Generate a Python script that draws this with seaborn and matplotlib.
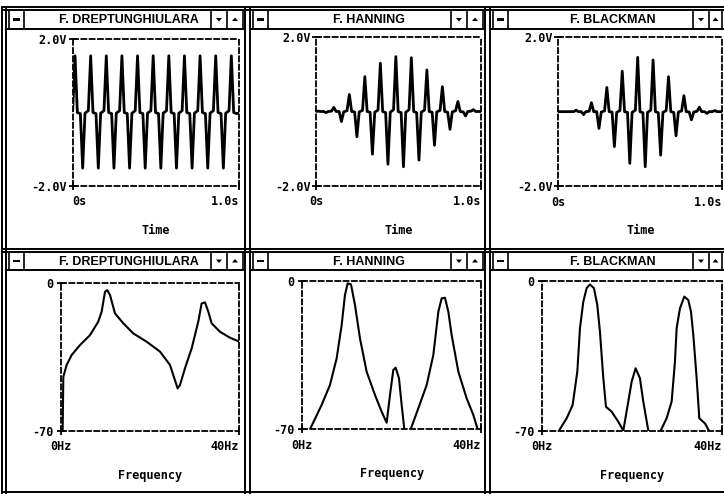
import numpy as np
import pandas as pd
import matplotlib
matplotlib.use("Agg")
import matplotlib.pyplot as plt
from matplotlib.patches import Rectangle, Polygon
import seaborn as sns

# ---------------- data ----------------
titles = ["F. DREPTUNGHIULARA", "F. HANNING", "F. BLACKMAN"]

# time-domain vertices (shared time instants, seconds)
t_time = [
    0.000, 0.014, 0.028, 0.046, 0.060, 0.074,
    0.094, 0.108, 0.122, 0.140, 0.154, 0.168,
    0.188, 0.202, 0.216, 0.234, 0.248, 0.262,
    0.282, 0.296, 0.310, 0.328, 0.342, 0.356,
    0.376, 0.390, 0.404, 0.422, 0.436, 0.450,
    0.470, 0.484, 0.498, 0.516, 0.530, 0.544,
    0.564, 0.578, 0.592, 0.610, 0.624, 0.638,
    0.658, 0.672, 0.686, 0.704, 0.718, 0.732,
    0.752, 0.766, 0.780, 0.798, 0.812, 0.826,
    0.846, 0.860, 0.874, 0.892, 0.906, 0.920,
    0.940, 0.954, 0.968, 0.986, 1.000]

v_rect = [
    0.05, 1.55, 0.00, -0.03, -1.52, -0.02,
    0.05, 1.55, 0.00, -0.03, -1.52, -0.02,
    0.05, 1.55, 0.00, -0.03, -1.52, -0.02,
    0.05, 1.55, 0.00, -0.03, -1.52, -0.02,
    0.05, 1.55, 0.00, -0.03, -1.52, -0.02,
    0.05, 1.55, 0.00, -0.03, -1.52, -0.02,
    0.05, 1.55, 0.00, -0.03, -1.52, -0.02,
    0.05, 1.55, 0.00, -0.03, -1.52, -0.02,
    0.05, 1.55, 0.00, -0.03, -1.52, -0.02,
    0.05, 1.55, 0.00, -0.03, -1.52, -0.02,
    0.05, 1.55, 0.00, -0.03, -0.02]

v_hann = [
    0.00, 0.01, 0.00, 0.00, -0.03, 0.00,
    0.01, 0.11, 0.00, 0.00, -0.27, -0.01,
    0.02, 0.46, 0.00, -0.01, -0.68, -0.01,
    0.03, 0.94, 0.00, -0.02, -1.15, -0.02,
    0.04, 1.30, 0.00, -0.03, -1.42, -0.02,
    0.05, 1.48, 0.00, -0.03, -1.49, -0.02,
    0.05, 1.45, 0.00, -0.03, -1.31, -0.02,
    0.04, 1.12, 0.00, -0.02, -0.91, -0.01,
    0.03, 0.67, 0.00, -0.02, -0.48, -0.01,
    0.02, 0.27, 0.00, -0.01, -0.12, 0.00,
    0.01, 0.05, 0.00, 0.00, 0.00]

v_black = [
    0.00, 0.00, 0.00, 0.00, 0.00, 0.00,
    0.00, 0.04, 0.00, 0.00, -0.08, 0.00,
    0.01, 0.24, 0.00, 0.00, -0.45, -0.01,
    0.02, 0.65, 0.00, -0.01, -0.94, -0.02,
    0.03, 1.09, 0.00, -0.02, -1.39, -0.02,
    0.04, 1.46, 0.00, -0.03, -1.48, -0.02,
    0.04, 1.39, 0.00, -0.03, -1.17, -0.02,
    0.03, 0.94, 0.00, -0.02, -0.65, -0.01,
    0.02, 0.43, 0.00, -0.01, -0.22, -0.01,
    0.01, 0.12, 0.00, 0.00, -0.05, 0.00,
    0.00, 0.03, 0.00, 0.00, 0.00]

# spectra (Hz, dB); NaN = curve below the -70 floor (not drawn)
f_rect = [0.37, 0.52, 1.27, 2.39, 4.26, 6.5, 8.37, 9.12, 9.87, 10.39, 10.99,
          12.11, 13.98, 16.22, 19.21, 22.21, 24.45, 25.42, 26.17, 26.69, 27.81,
          29.31, 30.8, 31.55, 32.3, 33.05, 33.79, 35.66, 37.9, 40.0]
db_rect = [-70, -44.5, -38.9, -34.2, -29.5, -24.8, -18.4, -13.7, -4.3, -3.5, -5.8,
           -14.5, -19.2, -24.0, -27.9, -32.6, -38.9, -45.2, -50.0, -48.4, -40.5,
           -31.1, -18.4, -9.8, -9.3, -13.7, -19.2, -23.2, -26.0, -27.9]

f_hann = [1.72, 4.33, 6.19, 7.69, 8.81, 9.55, 10.15, 10.9, 11.79, 12.91, 14.4,
          16.27, 17.76, 18.88, 19.63, 20.37, 20.9, 21.64, 22.24, 22.84, np.nan,
          24.25, 25.97, 27.84, 29.33, 30.45, 31.19, 31.94, 32.69, 33.43, 34.93,
          36.79, 38.28, 39.25]
db_hann = [-70, -58.5, -49.1, -36.5, -20.8, -6.6, -1.1, -1.6, -11.3, -27.1, -42.8,
           -53.8, -61.7, -66.9, -53.8, -42.0, -40.9, -45.9, -58.5, -70, np.nan,
           -70, -60.1, -49.1, -34.9, -14.5, -8.2, -7.9, -14.5, -25.5, -42.8,
           -55.4, -63.2, -70]

f_black = [3.7, 5.41, 6.74, 7.78, 8.37, 9.11, 9.85, 10.59, 11.48, 12.22, 12.81,
           13.56, 14.15, 15.41, 16.89, 18.0, 19.11, 19.85, 20.74, 21.7, 22.44,
           23.56, np.nan, 26.3, 27.63, 28.74, 29.48, 29.85, 30.59, 31.56, 32.44,
           33.04, 33.56, 34.3, 34.89, 36.15, 37.04]
db_black = [-70, -64.2, -58.0, -42.4, -22.1, -9.7, -3.4, -1.6, -3.4, -11.2, -23.7,
            -45.5, -58.8, -61.1, -65.8, -70, -56.4, -47.1, -40.8, -45.5, -56.4,
            -70, np.nan, -70, -64.2, -56.4, -37.7, -22.1, -12.8, -7.3, -8.9,
            -14.3, -25.3, -45.5, -64.2, -66.6, -70]

time_ticks = [0, 1.0]
time_ticklabels = ["0s", "1.0s"]
volt_ticks = [-2.0, 2.0]
volt_ticklabels = ["-2.0V", "2.0V"]
freq_ticks = [0, 40]
freq_ticklabels = ["0Hz", "40Hz"]
db_ticks = [-70, 0]
db_ticklabels = ["-70", "0"]

# ---------------- figure ----------------
sns.set_theme(style="white")
plt.rcParams['font.family'] = ['DejaVu Sans']

W, H = 724, 494
fig = plt.figure(figsize=(W / 100, H / 100), dpi=100)
fig.patch.set_facecolor("white")
bg = fig.add_axes([0, 0, 1, 1])
bg.set_xlim(0, W)
bg.set_ylim(H, 0)
bg.axis("off")

LW = 1.4


def hline(y, x0, x1, lw=LW):
    bg.plot([x0, x1], [y, y], color="black", lw=lw, solid_capstyle="butt")


def vline(x, y0, y1, lw=LW):
    bg.plot([x, x], [y0, y1], color="black", lw=lw, solid_capstyle="butt")


# window frames
for x in [2, 6, 245, 250, 485, 490]:
    vline(x, 6, 494)
for y in [7, 10, 248.5, 252, 492]:
    hline(y, 2, W)

cols = [  # left, right, box-left, box-right, div1, div2, title centre
    (6, 245, 9, 24, 211, 227, 129),
    (250, 485, 253, 268, 451, 467, 369),
    (490, W, 493, 508, 693, 709, 613),
]
rows = [(10, 29), (252, 270)]
for (yt, yb) in rows:
    ym = (yt + yb) / 2
    for ci, (xl, xr, bl, br, d1, d2, tc) in enumerate(cols):
        hline(yb, xl, xr)
        for x in [bl, br, d1, d2]:
            vline(x, yt, yb, lw=1.2)
        vline(min(xr - 2, W), yt, yb, lw=1.2)
        # "-" system button
        bg.add_patch(Rectangle(((bl + br) / 2 - 3.5, ym - 1.2), 7, 2.4,
                               color="black", lw=0))
        # down / up arrows
        cx = (d1 + d2) / 2
        bg.add_patch(Polygon([[cx - 3, ym - 1.5], [cx + 3, ym - 1.5], [cx, ym + 2]],
                             closed=True, color="black", lw=0))
        cx = (d2 + min(xr - 2, W + 14)) / 2
        bg.add_patch(Polygon([[cx - 3, ym + 1.5], [cx + 3, ym + 1.5], [cx, ym - 2]],
                             closed=True, color="black", lw=0))
        bg.text(tc, ym + 0.5, titles[ci], ha="center", va="center", color="black",
                fontsize=9, fontweight="bold", family=["Liberation Sans", "DejaVu Sans"])


def px_axes(x0, y0, x1, y1):
    return fig.add_axes([x0 / W, 1 - y1 / H, (x1 - x0) / W, (y1 - y0) / H])


MONO = ["DejaVu Sans Mono"]


def style_axes(ax, xticks, xlabels, yticks, ylabels, xlabel, ypad, first_ha="center"):
    for s in ax.spines.values():
        s.set_visible(True)
        s.set_color("black")
        s.set_linewidth(1.3)
        s.set_linestyle((0, (2.8, 1.8)))
    ax.set_facecolor("none")
    ax.set_xticks(xticks, xlabels)
    ax.set_yticks(yticks, ylabels)
    ax.tick_params(axis="both", which="major", bottom=True, left=True,
                   direction="inout", length=6, width=1.3, color="black",
                   labelsize=8.5, labelcolor="black")
    ax.tick_params(axis="x", pad=4)
    ax.tick_params(axis="y", pad=ypad)
    for lab in ax.get_xticklabels() + ax.get_yticklabels():
        lab.set_family(MONO)
        lab.set_fontweight("bold")
    xt = ax.xaxis.get_major_ticks()
    xt[0].label1.set_horizontalalignment(first_ha)
    xt[-1].label1.set_horizontalalignment("right")
    ax.set_xlabel(xlabel, family=MONO, fontweight="bold", fontsize=8.5,
                  labelpad=11, color="black")
    ax.set_ylabel("")
    ax.grid(False)


time_boxes = [(72.7, 39.3, 239, 185.7), (316, 37.3, 481, 185.7), (558.3, 37.3, 722.3, 186)]
freq_boxes = [(61, 282.7, 239.3, 430.7), (302.3, 281, 481, 429.3), (542.3, 281, 722.3, 430.7)]

time_series = [v_rect, v_hann, v_black]
freq_series = [(f_rect, db_rect), (f_hann, db_hann), (f_black, db_black)]

for i in range(3):
    ax = px_axes(*time_boxes[i])
    df = pd.DataFrame({"t": t_time, "v": time_series[i], "seg": 0})
    sns.lineplot(data=df, x="t", y="v", units="seg", estimator=None, color="black",
                 lw=2.0, ax=ax, legend=False, sort=False)
    ax.set_xlim(0, 1.0)
    ax.set_ylim(-2.0, 2.0)
    style_axes(ax, time_ticks, time_ticklabels, volt_ticks, volt_ticklabels, "Time",
               ypad=1, first_ha="left" if i == 0 else "center")

for i in range(3):
    ax = px_axes(*freq_boxes[i])
    f, d = freq_series[i]
    d_arr = np.array(d, dtype=float)
    df = pd.DataFrame({"f": f, "db": d_arr, "seg": np.cumsum(np.isnan(d_arr))}).dropna()
    sns.lineplot(data=df, x="f", y="db", units="seg", estimator=None, color="black",
                 lw=1.5, ax=ax, legend=False, sort=False)
    ax.set_xlim(0, 40)
    ax.set_ylim(-70, 0)
    style_axes(ax, freq_ticks, freq_ticklabels, db_ticks, db_ticklabels, "Frequency",
               ypad=2.5)

fig.savefig("out.png", dpi=100, facecolor="white")
